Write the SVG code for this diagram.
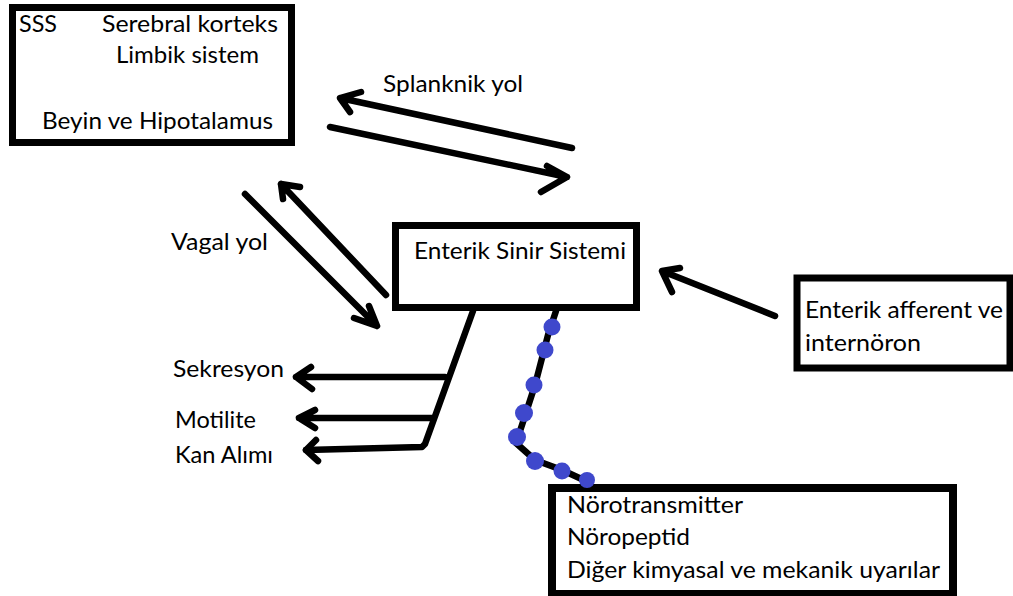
<svg xmlns="http://www.w3.org/2000/svg" width="1013" height="596" viewBox="0 0 1013 596">
<style>
.box{fill:#fff;stroke:#000;stroke-width:7}
.t{font-family:Lato,"Open Sans","Liberation Sans",sans-serif;font-size:23px;fill:#000}
.ln{fill:none;stroke:#000;stroke-width:6.5;stroke-linecap:round;stroke-linejoin:round}
.dot{fill:#3f48cc}
</style>
<rect width="1013" height="596" fill="#fff"/>
<g id="sss">
<rect class="box" x="12.5" y="7.5" width="279" height="135"/>
<text class="t" x="19" y="32" textLength="38" lengthAdjust="spacingAndGlyphs">SSS</text>
<text class="t" x="102" y="32" textLength="176" lengthAdjust="spacingAndGlyphs">Serebral korteks</text>
<text class="t" x="116" y="63" textLength="143" lengthAdjust="spacingAndGlyphs">Limbik sistem</text>
<text class="t" x="42" y="129" textLength="231" lengthAdjust="spacingAndGlyphs">Beyin ve Hipotalamus</text>
</g>
<g id="ess">
<rect class="box" x="395.5" y="225.5" width="241" height="82"/>
<text class="t" x="414" y="259" textLength="212" lengthAdjust="spacingAndGlyphs">Enterik Sinir Sistemi</text>
</g>
<g id="afferent">
<rect class="box" x="797" y="278" width="213" height="90"/>
<text class="t" x="805" y="318" textLength="198" lengthAdjust="spacingAndGlyphs">Enterik afferent ve</text>
<text class="t" x="805" y="351" textLength="116" lengthAdjust="spacingAndGlyphs">internöron</text>
</g>
<g id="stimuli">
<rect class="box" x="552" y="488" width="401" height="106" style="stroke-width:8"/>
<text class="t" x="567" y="513" textLength="176" lengthAdjust="spacingAndGlyphs">Nörotransmitter</text>
<text class="t" x="567" y="545" textLength="123" lengthAdjust="spacingAndGlyphs">Nöropeptid</text>
<text class="t" x="567" y="578" textLength="373" lengthAdjust="spacingAndGlyphs">Diğer kimyasal ve mekanik uyarılar</text>
</g>
<g id="labels">
<text class="t" x="383" y="92" textLength="140" lengthAdjust="spacingAndGlyphs">Splanknik yol</text>
<text class="t" x="171" y="250" textLength="97" lengthAdjust="spacingAndGlyphs">Vagal yol</text>
<text class="t" x="173" y="377" textLength="111" lengthAdjust="spacingAndGlyphs">Sekresyon</text>
<text class="t" x="175" y="428" textLength="81" lengthAdjust="spacingAndGlyphs">Motilite</text>
<text class="t" x="175" y="463" textLength="98" lengthAdjust="spacingAndGlyphs">Kan Alımı</text>
</g>
<g id="connectors">
<path class="ln" d="M572,148 L340,98 M361,92 L340,98 L350,112"/>
<path class="ln" d="M330,127 L567,177 M547,166 L567,177 L541,192"/>
<path class="ln" d="M386,295 L281,184 M300,187 L281,184 L283,199"/>
<path class="ln" d="M245,194 L377,326 M369,306 L377,326 L354,318"/>
<path class="ln" d="M473,311 L425,444 L422,447 L306,450"/>
<path class="ln" d="M445,377 L296,377 M311,367 L296,377 L312,389"/>
<path class="ln" d="M432,418 L299,418 M315,410 L299,418 L315,428"/>
<path class="ln" d="M316,440 L306,450 L318,461"/>
<path class="ln" d="M775,316 L662,271 M680,268 L662,271 L672,292"/>
<path class="ln" d="M556,311 L548,335 L535,385 L522,425 L516,443 L535,460 L562,470 L588,482"/>
<circle class="dot" cx="552" cy="327" r="8.5"/>
<circle class="dot" cx="545" cy="350" r="8.5"/>
<circle class="dot" cx="534" cy="385" r="8.5"/>
<circle class="dot" cx="524" cy="413" r="9"/>
<circle class="dot" cx="517" cy="437" r="9"/>
<circle class="dot" cx="535" cy="461" r="9"/>
<circle class="dot" cx="562" cy="471" r="8.5"/>
<circle class="dot" cx="587" cy="480" r="8"/>
</g>
</svg>
